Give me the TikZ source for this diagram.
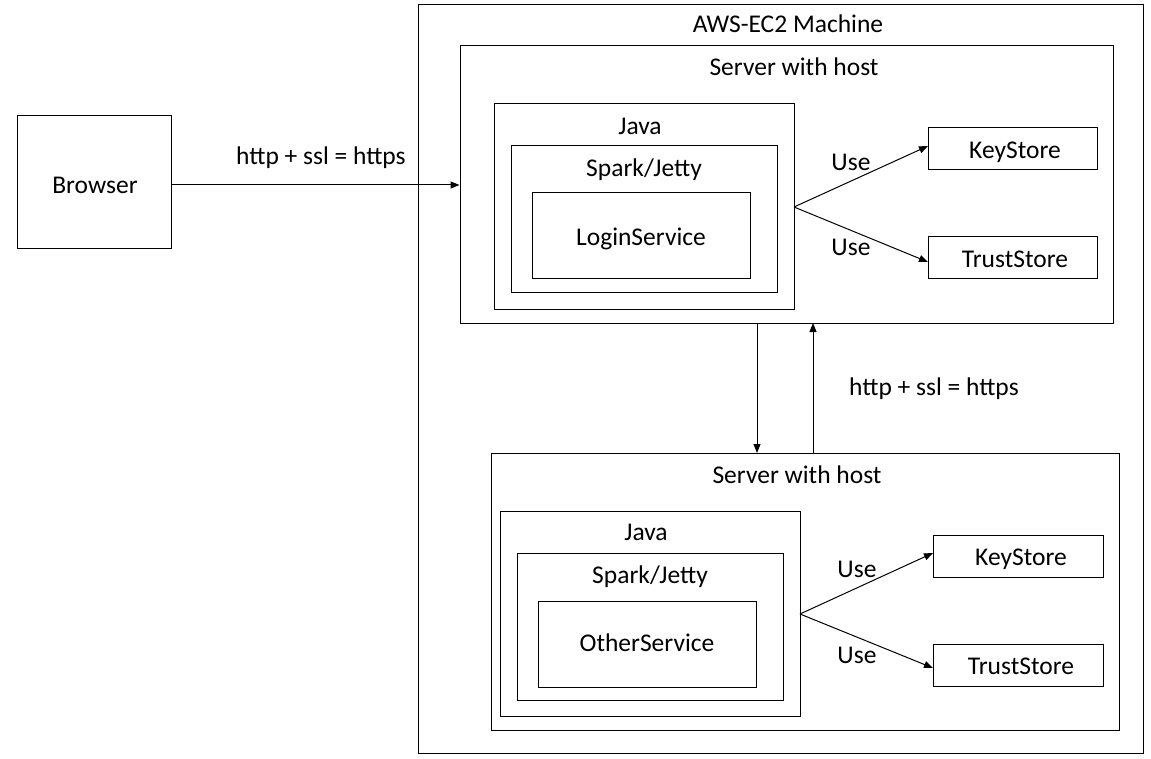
\documentclass[tikz,border=0pt]{standalone}
\usepackage{fontspec}
\setmainfont{Carlito}
\usetikzlibrary{arrows.meta}
\begin{document}
\begin{tikzpicture}[x=1pt,y=-1pt,
  box/.style={draw=black, line width=1pt, inner sep=0pt},
  lbl/.style={inner sep=0pt, text height=0.64em, text depth=0pt, yshift=-5pt, font=\fontsize{25.5}{29}\selectfont},
  arr/.style={draw=black, line width=1pt, -{Triangle[length=9pt,width=7pt]}}]
\useasboundingbox[fill=white] (0,0) rectangle (1151,759);
% helper: box by corners
\newcommand{\mybox}[5]{\node[box, minimum width=#4-#2, minimum height=#5-#3] (#1) at ({(#2+#4)/2},{(#3+#5)/2}) {};}
\mybox{browser}{17}{116}{171}{249}
\node[lbl] (browsert) at (95,185) {Browser};
\mybox{aws}{418}{5}{1143}{753}
\node[lbl] (awst) at (788,24) {AWS-EC2 Machine};
% top server
\mybox{srvA}{460}{46}{1113}{323}
\node[lbl] (srvAt) at (794,67) {Server with host};
\mybox{javaA}{494}{104}{794}{310}
\node[lbl] (javaAt) at (640,126) {Java};
\mybox{sparkA}{511}{146}{777}{293}
\node[lbl] (sparkAt) at (644,168) {Spark/Jetty};
\mybox{loginA}{532}{193}{750}{279}
\node[lbl] (loginAt) at (641,237) {LoginService};
\mybox{keyA}{928}{128}{1097}{170}
\node[lbl] (keyAt) at (1015,150) {KeyStore};
\mybox{trustA}{928}{237}{1097}{279}
\node[lbl] (trustAt) at (1015,259) {TrustStore};
\coordinate (jA) at (794,207);
\draw[arr] (jA) -- (928,146) coordinate (kA);
\draw[arr] (jA) -- (928,262) coordinate (tA);
\node[lbl] (useA1) at (851,162) {Use};
\node[lbl] (useA2) at (851,247) {Use};
% browser arrow
\draw[arr] (browser.east |- 0,185) -- (srvA.west |- 0,185);
\node[lbl] (httpA) at (321,156) {http + ssl = https};
% bottom server
\mybox{srvB}{491}{453}{1119}{730}
\node[lbl] (srvBt) at (797,475) {Server with host};
\mybox{javaB}{500}{511}{800}{716}
\node[lbl] (javaBt) at (646,532) {Java};
\mybox{sparkB}{517}{553}{783}{700}
\node[lbl] (sparkBt) at (650,575) {Spark/Jetty};
\mybox{otherB}{538}{601}{756}{687}
\node[lbl] (otherBt) at (647,643) {OtherService};
\mybox{keyB}{933}{535}{1103}{577}
\node[lbl] (keyBt) at (1021,557) {KeyStore};
\mybox{trustB}{933}{644}{1103}{686}
\node[lbl] (trustBt) at (1021,666) {TrustStore};
\coordinate (jB) at (800,614);
\draw[arr] (jB) -- (933,553);
\draw[arr] (jB) -- (933,668);
\node[lbl] (useB1) at (857,569) {Use};
\node[lbl] (useB2) at (857,655) {Use};
% vertical arrows
\draw[arr] (757,323) -- (757,453);
\draw[arr] (813,453) -- (813,323);
\node[lbl] (httpB) at (934,387) {http + ssl = https};
\end{tikzpicture}
\end{document}
